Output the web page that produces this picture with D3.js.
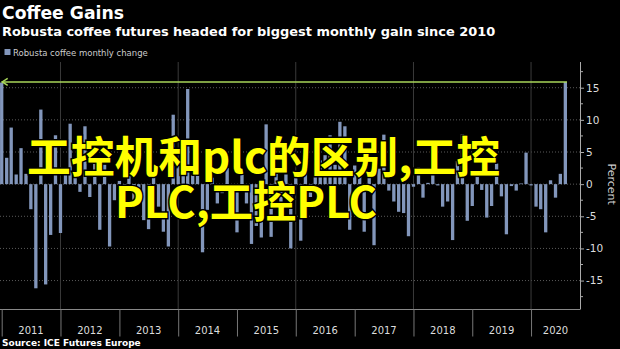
<!DOCTYPE html>
<html>
<head>
<meta charset="utf-8">
<script src="https://cdn.jsdelivr.net/npm/d3@7"></script>
<style>
  body { margin: 0; background: #000; }
  svg { display: block; }
</style>
</head>
<body>
<svg id="chart"></svg>
<script>
// monthly % change, Robusta coffee, Dec 2010 .. Jul 2020
var firstMonth = "2010-12"
var change = [
  15.8,
  4.1, 8.8, 1.5, 5.6, 1.6, -3.9, -16.2, 11.6, -15.6, -7.9, 7.6, -7.6,
  1.5, 9.4, 1.0, -1.2, 9.0, -2.0, 4.0, -7.1, 3.0, -9.7, -2.5, 0.5,
  -1.5, 2.0, -3.5, -1.0, -5.6, -7.0, 2.5, -3.5, -7.4, -9.7, 10.8, 3.0,
  1.5, 14.8, 1.4, 2.0, -10.6, -4.0, 1.0, -3.0, -1.4, 2.5, -2.5, -7.5,
  1.5, -3.0, -9.3, -6.5, -8.3, 9.3, -8.2, 2.0, -3.0, 1.5, -10.0, 2.0,
  -8.8, 3.0, -2.0, 3.5, 3.7, 4.5, 7.6, 3.0, 9.7, 9.0, -7.1, 2.9,
  1.5, -7.4, 2.0, -9.5, 2.4, 7.7, -1.0, -2.7, -4.3, -4.5, -8.1, -0.4,
  2.6, -2.1, 0.2, 1.9, -0.2, -3.5, -2.7, -8.7, 3.6, 7.8, -5.7, -3.4,
  1.1, -0.9, -5.2, -3.4, 3.2, -1.9, -7.8, -0.3, -1.0, 0.1, 4.9, -0.2,
  -3.5, -3.9, -7.5, 0.6, -2.1, 1.6, 15.9
]
var years = [2011, 2012, 2013, 2014, 2015, 2016, 2017, 2018, 2019, 2020]
var gridYears = [2012, 2014, 2016, 2018, 2020]
var yTicks = [-15, -10, -5, 0, 5, 10, 15]
var yMinorTicks = [-17.5, -12.5, -7.5, -2.5, 2.5, 7.5, 12.5, 17.5]

var title = "Coffee Gains"
var subtitle = "Robusta coffee futures headed for biggest monthly gain since 2010"
var legendLabel = "Robusta coffee monthly change"
var source = "Source: ICE Futures Europe"
var overlay = ["工控机和plc的区别,工控", "PLC,工控PLC"]

var dimensions = {
    width: 620,
    height: 349,
    plot: { left: 1.7, right: 580, top: 62, bottom: 309.5 },
    barWidth: 3.3
}

// bars sit at the end of their month
var start = d3.timeParse("%Y-%m")(firstMonth)
var dataset = change.map(function(v, i) {
    return { date: d3.timeMonth.offset(start, i + 1), value: v }
})

var svg = d3.select("#chart")
            .attr("width", dimensions.width)
            .attr("height", dimensions.height)
            .style("font-family", "'DejaVu Sans', sans-serif")

var xScale = d3.scaleTime()
        .domain([new Date(2011, 0, 1), new Date(2020, 9, 31)])
        .range([dimensions.plot.left, dimensions.plot.right])

var yScale = d3.scaleLinear()
        .domain([-19.5, 19])
        .range([dimensions.plot.bottom, dimensions.plot.top])

// shrink a text until it fits a width
function fitWidth(sel, target) {
    var node = sel.node()
    var size = parseFloat(sel.attr("font-size"))
    var w = node.getComputedTextLength()
    sel.attr("font-size", size * target / w)
}

// titles
svg.append("text")
        .attr("x", 2).attr("y", 19)
        .attr("font-size", 17).attr("font-weight", "bold")
        .attr("fill", "#fff")
        .text(title)
        .call(fitWidth, 122)

svg.append("text")
        .attr("x", 2).attr("y", 36)
        .attr("font-size", 14).attr("font-weight", "bold")
        .attr("fill", "#fff")
        .text(subtitle)
        .call(fitWidth, 494)

// legend
svg.append("rect")
        .attr("x", 4.5).attr("y", 49)
        .attr("width", 6).attr("height", 6)
        .attr("fill", "#8296bb")
svg.append("text")
        .attr("x", 13).attr("y", 55.5)
        .attr("font-size", 9.5)
        .attr("fill", "#ccc")
        .text(legendLabel)
        .call(fitWidth, 135)

// grid
svg.append("g")
        .selectAll("line")
        .data(yTicks)
        .enter()
        .append("line")
        .attr("x1", 0).attr("x2", dimensions.plot.right)
        .attr("y1", d => yScale(d)).attr("y2", d => yScale(d))
        .attr("stroke", "#5a5a5a")
        .attr("stroke-dasharray", "1,2")

svg.append("g")
        .selectAll("line")
        .data(gridYears)
        .enter()
        .append("line")
        .attr("x1", d => xScale(new Date(d, 0, 1))).attr("x2", d => xScale(new Date(d, 0, 1)))
        .attr("y1", dimensions.plot.top).attr("y2", dimensions.plot.bottom)
        .attr("stroke", "#3a3a3a")

// bars
svg.append("g")
        .selectAll("rect")
        .data(dataset)
        .enter()
        .append("rect")
        .attr("x", d => xScale(d.date) - dimensions.barWidth / 2)
        .attr("y", d => yScale(Math.max(0, d.value)))
        .attr("width", dimensions.barWidth)
        .attr("height", d => Math.abs(yScale(d.value) - yScale(0)))
        .attr("fill", "#8296bb")

// arrow back to the last gain of this size
var first = dataset[0], last = dataset[dataset.length - 1]
var ay = yScale(last.value)
svg.append("line")
        .attr("x1", xScale(first.date)).attr("x2", xScale(last.date) + dimensions.barWidth / 2)
        .attr("y1", ay).attr("y2", ay)
        .attr("stroke", "#a8d65a")
        .attr("stroke-width", 1.5)
svg.append("path")
        .attr("d", `M${xScale(first.date) + 6},${ay - 3.5} L${xScale(first.date) + 0.5},${ay} L${xScale(first.date) + 6},${ay + 3.5}`)
        .attr("fill", "none")
        .attr("stroke", "#a8d65a")
        .attr("stroke-width", 1.5)

// bottom axis
svg.append("line")
        .attr("x1", 0).attr("x2", dimensions.plot.right)
        .attr("y1", dimensions.plot.bottom).attr("y2", dimensions.plot.bottom)
        .attr("stroke", "#888")

var xAxisGen = d3.axisBottom(xScale)
        .tickValues(years.map(y => new Date(y, 0, 1)))
        .tickSize(27)
        .tickFormat("")
var xAxis = svg.append("g")
        .attr("transform", `translate(0, ${dimensions.plot.bottom})`)
        .call(xAxisGen)
xAxis.select(".domain").remove()
xAxis.selectAll(".tick line").attr("stroke", "#777")

svg.append("g")
        .selectAll("text")
        .data(years)
        .enter()
        .append("text")
        .attr("x", d => (xScale(new Date(d, 0, 1)) + xScale(new Date(d, 11, 31))) / 2)
        .attr("y", 334)
        .attr("text-anchor", "middle")
        .attr("font-size", 10)
        .attr("fill", "#ddd")
        .text(d => d)
        .filter(d => d == 2020)
        .attr("x", (xScale(new Date(2020, 0, 1)) + dimensions.plot.right) / 2)

// right axis
var yAxisGen = d3.axisRight(yScale)
        .tickValues(yTicks)
        .tickSize(4)
        .tickPadding(2)
        .tickFormat(d => d < 0 ? "-" + Math.abs(d) : d)
var yAxis = svg.append("g")
        .attr("transform", `translate(${dimensions.plot.right}, 0)`)
        .call(yAxisGen)
yAxis.select(".domain").attr("stroke", "#aaa").attr("d", `M0.5,${dimensions.plot.top}V${dimensions.plot.bottom}`)
yAxis.selectAll(".tick line").attr("stroke", "#aaa")
yAxis.selectAll(".tick text")
        .attr("fill", "#ddd")
        .attr("font-size", 10.5)
        .attr("font-family", "'DejaVu Sans', sans-serif")

svg.append("g")
        .selectAll("line")
        .data(yMinorTicks)
        .enter()
        .append("line")
        .attr("x1", dimensions.plot.right).attr("x2", dimensions.plot.right + 3)
        .attr("y1", d => yScale(d)).attr("y2", d => yScale(d))
        .attr("stroke", "#aaa")

svg.append("text")
        .attr("transform", `translate(608, ${yScale(0)}) rotate(90)`)
        .attr("text-anchor", "middle")
        .attr("font-size", 11)
        .attr("fill", "#ccc")
        .text("Percent")

// source
svg.append("text")
        .attr("x", 2).attr("y", 346)
        .attr("font-size", 9)
        .attr("font-weight", "bold")
        .attr("fill", "#fff")
        .text(source)
        .call(fitWidth, 139)

// overlay caption
var caption = svg.append("g")
        .style("font-family", "'Noto Sans CJK SC', sans-serif")
        .attr("font-weight", "bold")
        .attr("fill", "#ffff00")
        .attr("stroke", "#000")
        .attr("stroke-width", 3)
        .attr("paint-order", "stroke")
caption.append("text")
        .attr("x", 27).attr("y", 173)
        .attr("font-size", 42)
        .text(overlay[0])
        .call(fitWidth, 473)
caption.append("text")
        .attr("x", 115).attr("y", 218)
        .attr("font-size", 42)
        .text(overlay[1])
        .call(fitWidth, 262)
</script>
</body>
</html>
